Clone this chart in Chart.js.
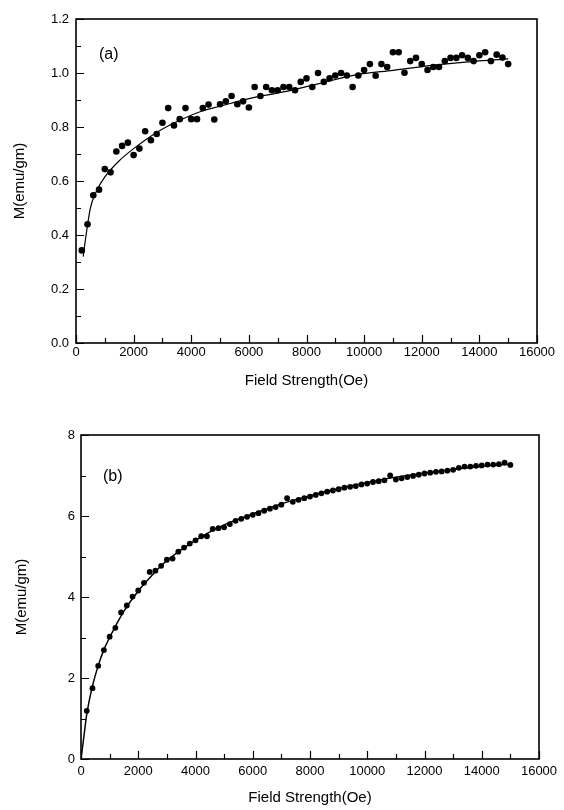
<!DOCTYPE html>
<html>
<head>
<meta charset="utf-8">
<script src="https://cdn.jsdelivr.net/npm/chart.js@4.4.0/dist/chart.umd.min.js"></script>
<style>
  html, body { margin: 0; padding: 0; background: #fff; }
  canvas { position: absolute; left: 0; }
</style>
</head>
<body>
<canvas id="chartA" width="564" height="405" style="top:0"></canvas>
<canvas id="chartB" width="564" height="405" style="top:405px"></canvas>
<script>
// measured field values (Oe), same grid for both samples
const fieldOe = [200, 400, 600, 800, 1000, 1200, 1400, 1600, 1800, 2000,
  2200, 2400, 2600, 2800, 3000, 3200, 3400, 3600, 3800, 4000,
  4200, 4400, 4600, 4800, 5000, 5200, 5400, 5600, 5800, 6000,
  6200, 6400, 6600, 6800, 7000, 7200, 7400, 7600, 7800, 8000,
  8200, 8400, 8600, 8800, 9000, 9200, 9400, 9600, 9800, 10000,
  10200, 10400, 10600, 10800, 11000, 11200, 11400, 11600, 11800, 12000,
  12200, 12400, 12600, 12800, 13000, 13200, 13400, 13600, 13800, 14000,
  14200, 14400, 14600, 14800, 15000];

// (a) magnetisation, emu/gm
const magA = [0.343, 0.440, 0.547, 0.568, 0.644, 0.632, 0.709, 0.730, 0.742, 0.696,
  0.720, 0.784, 0.751, 0.774, 0.816, 0.870, 0.806, 0.829, 0.870, 0.829,
  0.829, 0.870, 0.883, 0.828, 0.884, 0.895, 0.915, 0.884, 0.895, 0.872,
  0.948, 0.915, 0.948, 0.936, 0.936, 0.948, 0.948, 0.936, 0.967, 0.980,
  0.948, 1.000, 0.967, 0.980, 0.991, 1.000, 0.991, 0.948, 0.991, 1.011,
  1.033, 0.990, 1.033, 1.022, 1.077, 1.077, 1.001, 1.044, 1.056, 1.033,
  1.011, 1.022, 1.022, 1.044, 1.056, 1.056, 1.066, 1.056, 1.044, 1.066,
  1.077, 1.044, 1.068, 1.057, 1.033];

// (a) fitted curve
const fitAx = [250, 350, 500, 700, 1000, 1500, 2000, 2800, 3600, 4400,
  5000, 6000, 7200, 8400, 9800, 11000, 12500, 14000, 15000];
const fitAy = [0.32, 0.40, 0.50, 0.56, 0.615, 0.675, 0.72, 0.78, 0.825, 0.86,
  0.877, 0.905, 0.93, 0.96, 0.995, 1.01, 1.03, 1.045, 1.052];

// (b) magnetisation, emu/gm
const magB = [1.19, 1.75, 2.30, 2.69, 3.02, 3.24, 3.62, 3.79, 4.01, 4.16,
  4.35, 4.62, 4.65, 4.77, 4.92, 4.95, 5.12, 5.22, 5.32, 5.40,
  5.50, 5.50, 5.68, 5.70, 5.72, 5.80, 5.88, 5.93, 5.98, 6.03,
  6.07, 6.13, 6.18, 6.22, 6.28, 6.44, 6.35, 6.40, 6.44, 6.48,
  6.52, 6.56, 6.60, 6.63, 6.66, 6.70, 6.72, 6.74, 6.78, 6.80,
  6.84, 6.86, 6.88, 7.00, 6.90, 6.93, 6.96, 6.99, 7.02, 7.05,
  7.07, 7.09, 7.10, 7.12, 7.14, 7.19, 7.22, 7.22, 7.24, 7.25,
  7.27, 7.27, 7.28, 7.32, 7.26];

// (b) fitted curve
const fitBx = [0, 100, 200, 400, 600, 800, 1000, 1500, 2000, 2500, 3000,
  4000, 5000, 6000, 7000, 8000, 9000, 10000, 11000, 12000, 13000, 14000, 15000];
const fitBy = [0, 0.55, 1.1, 1.8, 2.3, 2.7, 3.0, 3.65, 4.15, 4.55, 4.9,
  5.4, 5.78, 6.05, 6.3, 6.5, 6.68, 6.83, 6.96, 7.06, 7.15, 7.23, 7.28];

// tick values
const xMajor = [0, 2000, 4000, 6000, 8000, 10000, 12000, 14000, 16000];
const xMinor = [1000, 3000, 5000, 7000, 9000, 11000, 13000, 15000];
const yMajorA = [0, 0.2, 0.4, 0.6, 0.8, 1.0, 1.2];
const yMinorA = [0.1, 0.3, 0.5, 0.7, 0.9, 1.1];
const yMajorB = [0, 2, 4, 6, 8];
const yMinorB = [1, 3, 5, 7];

Chart.defaults.font.family = '"Liberation Sans", Arial, sans-serif';
Chart.defaults.color = '#000';

// inward tick marks, frame and panel letter
const frameTicks = {
  id: 'frameTicks',
  afterDraw(chart, args, opts) {
    const { ctx, chartArea: a, scales: { x, y } } = chart;
    ctx.save();
    ctx.strokeStyle = '#000';
    ctx.lineWidth = 1.2;
    ctx.beginPath();
    const tick = (vals, len, horiz) => vals.forEach(v => {
      if (horiz) {
        const px = Math.round(x.getPixelForValue(v)) + 0.5;
        ctx.moveTo(px, a.bottom); ctx.lineTo(px, a.bottom - len);
      } else {
        const py = Math.round(y.getPixelForValue(v)) + 0.5;
        ctx.moveTo(a.left, py); ctx.lineTo(a.left + len, py);
      }
    });
    tick(opts.xMajor, 8, true);
    tick(opts.xMinor, 5, true);
    tick(opts.yMajor, 8, false);
    tick(opts.yMinor, 5, false);
    ctx.stroke();
    ctx.lineWidth = 1.6;
    ctx.strokeRect(a.left, a.top, a.right - a.left, a.bottom - a.top);
    ctx.fillStyle = '#000';
    ctx.font = '16px "Liberation Sans", Arial, sans-serif';
    ctx.textBaseline = 'middle';
    ctx.fillText(opts.label, a.left + opts.lx, a.top + opts.ly);
    ctx.restore();
  }
};

function makeChart(id, cfg) {
  return new Chart(document.getElementById(id), {
    type: 'scatter',
    data: {
      datasets: [
        {
          data: fieldOe.map((f, i) => ({ x: f, y: cfg.mag[i] })),
          backgroundColor: '#000',
          borderColor: '#000',
          pointRadius: cfg.dot,
          pointBorderWidth: 0,
          showLine: false
        },
        {
          data: cfg.fitX.map((f, i) => ({ x: f, y: cfg.fitY[i] })),
          borderColor: '#000',
          borderWidth: cfg.lineW,
          pointRadius: 0,
          showLine: true,
          cubicInterpolationMode: 'monotone'
        }
      ]
    },
    options: {
      responsive: false,
      animation: false,
      layout: { padding: cfg.pad },
      plugins: {
        legend: { display: false },
        tooltip: { enabled: false },
        frameTicks: {
          xMajor, xMinor,
          yMajor: cfg.yMajor, yMinor: cfg.yMinor,
          label: cfg.label, lx: cfg.lx, ly: cfg.ly
        }
      },
      scales: {
        x: {
          type: 'linear',
          min: 0, max: 16000,
          grid: { display: false, drawTicks: false },
          border: { display: false },
          ticks: {
            stepSize: 2000, padding: cfg.xPad, font: { size: 13 }, maxRotation: 0,
            callback: v => String(v)
          },
          title: {
            display: true, text: 'Field Strength(Oe)',
            font: { size: 15 }, padding: { top: 0, bottom: cfg.xTitlePad }
          },
          afterFit(s) { s.height = cfg.xH; }
        },
        y: {
          min: 0, max: cfg.yMax,
          grid: { display: false, drawTicks: false },
          border: { display: false },
          ticks: { stepSize: cfg.yStep, padding: cfg.yPad, font: { size: 13 }, callback: cfg.fmt },
          title: {
            display: true, text: 'M(emu/gm)',
            font: { size: 15 }, padding: { top: cfg.yTitlePad, bottom: 0 }
          },
          afterFit(s) { s.width = cfg.yW; }
        }
      }
    },
    plugins: [frameTicks]
  });
}

makeChart('chartA', {
  mag: magA, fitX: fitAx, fitY: fitAy, dot: 3.3, lineW: 1.2,
  pad: { left: 0, top: 19, right: 27, bottom: 0 },
  yMax: 1.2, yStep: 0.2, fmt: v => v.toFixed(1),
  yMajor: yMajorA, yMinor: yMinorA,
  xH: 62, xPad: 2, xTitlePad: 15, yW: 76, yPad: 7, yTitlePad: 11,
  label: '(a)', lx: 23, ly: 36
});

makeChart('chartB', {
  mag: magB, fitX: fitBx, fitY: fitBy, dot: 2.9, lineW: 1.5,
  pad: { left: 0, top: 30, right: 25, bottom: 0 },
  yMax: 8, yStep: 2, fmt: v => String(v),
  yMajor: yMajorB, yMinor: yMinorB,
  xH: 51, xPad: 5, xTitlePad: 3, yW: 81, yPad: 6, yTitlePad: 13,
  label: '(b)', lx: 22, ly: 42
});
</script>
</body>
</html>
